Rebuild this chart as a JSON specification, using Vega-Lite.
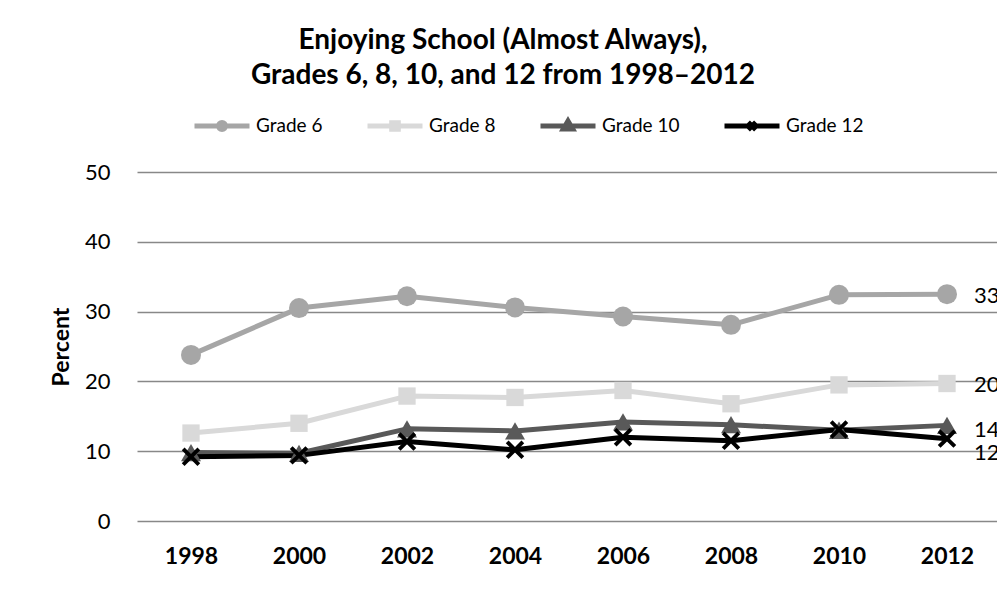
{
  "$schema": "https://vega.github.io/schema/vega-lite/v6.json",
  "autosize": {"type": "none"},
  "width": 864,
  "height": 349,
  "padding": {"left": 137, "top": 172, "right": -4, "bottom": 71},
  "background": "white",
  "title": {
    "text": ["Enjoying School (Almost Always),", "Grades 6, 8, 10, and 12 from 1998–2012"],
    "anchor": "middle",
    "frame": "group",
    "dx": -66,
    "offset": 6,
    "font": "Lato",
    "fontSize": 28,
    "fontWeight": "bold",
    "color": "#000000",
    "lineHeight": 35
  },
  "config": {
    "view": {"stroke": null},
    "font": "Lato"
  },
  "data": {
    "values": [
      {"year": "1998", "grade": "Grade 6", "value": 23.8},
      {"year": "2000", "grade": "Grade 6", "value": 30.5},
      {"year": "2002", "grade": "Grade 6", "value": 32.2},
      {"year": "2004", "grade": "Grade 6", "value": 30.6},
      {"year": "2006", "grade": "Grade 6", "value": 29.3},
      {"year": "2008", "grade": "Grade 6", "value": 28.1},
      {"year": "2010", "grade": "Grade 6", "value": 32.4},
      {"year": "2012", "grade": "Grade 6", "value": 32.5},
      {"year": "1998", "grade": "Grade 8", "value": 12.6},
      {"year": "2000", "grade": "Grade 8", "value": 14.0},
      {"year": "2002", "grade": "Grade 8", "value": 17.9},
      {"year": "2004", "grade": "Grade 8", "value": 17.7},
      {"year": "2006", "grade": "Grade 8", "value": 18.7},
      {"year": "2008", "grade": "Grade 8", "value": 16.8},
      {"year": "2010", "grade": "Grade 8", "value": 19.5},
      {"year": "2012", "grade": "Grade 8", "value": 19.7},
      {"year": "1998", "grade": "Grade 10", "value": 9.8},
      {"year": "2000", "grade": "Grade 10", "value": 9.7},
      {"year": "2002", "grade": "Grade 10", "value": 13.2},
      {"year": "2004", "grade": "Grade 10", "value": 12.9},
      {"year": "2006", "grade": "Grade 10", "value": 14.2},
      {"year": "2008", "grade": "Grade 10", "value": 13.8},
      {"year": "2010", "grade": "Grade 10", "value": 13.0},
      {"year": "2012", "grade": "Grade 10", "value": 13.7},
      {"year": "1998", "grade": "Grade 12", "value": 9.2},
      {"year": "2000", "grade": "Grade 12", "value": 9.4},
      {"year": "2002", "grade": "Grade 12", "value": 11.4},
      {"year": "2004", "grade": "Grade 12", "value": 10.2},
      {"year": "2006", "grade": "Grade 12", "value": 12.0},
      {"year": "2008", "grade": "Grade 12", "value": 11.5},
      {"year": "2010", "grade": "Grade 12", "value": 13.1},
      {"year": "2012", "grade": "Grade 12", "value": 11.8}
    ]
  },
  "encoding": {
    "x": {
      "field": "year",
      "type": "ordinal",
      "scale": {"type": "point", "padding": 0.5},
      "axis": {
        "title": null,
        "labelAngle": 0,
        "labelFont": "Lato",
        "labelFontSize": 23,
        "labelFontWeight": "bold",
        "labelColor": "#000000",
        "labelPadding": 24,
        "ticks": false,
        "domain": false,
        "grid": false
      }
    },
    "y": {
      "field": "value",
      "type": "quantitative",
      "scale": {"domain": [0, 50], "nice": false, "zero": true},
      "axis": {
        "title": "Percent",
        "titleFont": "Lato",
        "titleFontSize": 23,
        "titleFontWeight": "bold",
        "titleColor": "#000000",
        "titlePadding": 11,
        "values": [0, 10, 20, 30, 40, 50],
        "labelFont": "Lato",
        "labelFontSize": 22,
        "labelColor": "#000000",
        "labelPadding": 27,
        "ticks": false,
        "domain": false,
        "grid": true,
        "gridColor": "#888888",
        "gridWidth": 1.5
      }
    }
  },
  "layer": [
    {
      "mark": {"type": "line", "strokeWidth": 5, "strokeCap": "round", "strokeJoin": "round"},
      "encoding": {
        "color": {
          "field": "grade",
          "type": "nominal",
          "sort": ["Grade 6", "Grade 8", "Grade 10", "Grade 12"],
          "scale": {
            "domain": ["Grade 6", "Grade 8", "Grade 10", "Grade 12"],
            "range": ["#A6A6A6", "#D9D9D9", "#595959", "#000000"]
          },
          "legend": {
            "title": null,
            "orient": "none",
            "direction": "horizontal",
            "legendX": 55,
            "legendY": -76,
            "gridAlign": "none",
            "columnPadding": 34,
            "labelOffset": 4,
            "labelFont": "Lato",
            "labelFontSize": 19,
            "labelColor": "#000000",
            "symbolSize": 3025,
            "symbolStrokeWidth": 5,
            "encode": {
              "symbols": {
                "update": {
                  "shape": {"signal": "datum.value === 'Grade 6' ? 'M-1,0H1M-0.13,0A0.13,0.13 0 1,0 0.13,0A0.13,0.13 0 1,0 -0.13,0Z' : datum.value === 'Grade 8' ? 'M-1,0H1M-0.12,-0.12H0.12V0.12H-0.12Z' : datum.value === 'Grade 10' ? 'M-1,0H1M0,-0.18L0.17,0.11H-0.17Z' : 'M-1,0H1M-0.14,-0.14L0.14,0.14M-0.14,0.14L0.14,-0.14'"},
                  "fill": {"scale": "color", "field": "value"},
                  "stroke": {"scale": "color", "field": "value"},
                  "strokeWidth": {"value": 5},
                  "opacity": {"value": 1},
                  "fillOpacity": {"value": 1},
                  "strokeOpacity": {"value": 1}
                }
              }
            }
          }
        }
      }
    },
    {
      "transform": [{"filter": "datum.grade === 'Grade 6'"}],
      "mark": {"type": "point", "filled": true, "opacity": 1, "shape": "circle", "size": 400, "color": "#A6A6A6"}
    },
    {
      "transform": [{"filter": "datum.grade === 'Grade 8'"}],
      "mark": {"type": "point", "filled": true, "opacity": 1, "shape": "square", "size": 300, "color": "#D9D9D9"}
    },
    {
      "transform": [{"filter": "datum.grade === 'Grade 10'"}],
      "mark": {"type": "point", "filled": true, "opacity": 1, "shape": "triangle-up", "size": 400, "color": "#595959"}
    },
    {
      "transform": [{"filter": "datum.grade === 'Grade 12'"}],
      "mark": {"type": "point", "filled": true, "opacity": 1, "shape": "M-1,-0.7L-0.7,-1L0,-0.3L0.7,-1L1,-0.7L0.3,0L1,0.7L0.7,1L0,0.3L-0.7,1L-1,0.7L-0.3,0Z", "size": 340, "color": "#000000"}
    },
    {
      "transform": [{"filter": "datum.year === '2012' && (datum.grade === 'Grade 6' || datum.grade === 'Grade 8')"}],
      "mark": {"type": "text", "align": "left", "baseline": "middle", "dx": 27, "dy": 2, "font": "Lato", "fontSize": 22, "color": "#000000"},
      "encoding": {
        "text": {"field": "value", "type": "quantitative", "format": ".0f"}
      }
    },
    {
      "transform": [{"filter": "datum.year === '2012' && datum.grade === 'Grade 10'"}],
      "mark": {"type": "text", "align": "left", "baseline": "middle", "dx": 27, "dy": 5, "font": "Lato", "fontSize": 22, "color": "#000000"},
      "encoding": {
        "text": {"field": "value", "type": "quantitative", "format": ".0f"}
      }
    },
    {
      "transform": [{"filter": "datum.year === '2012' && datum.grade === 'Grade 12'"}],
      "mark": {"type": "text", "align": "left", "baseline": "middle", "dx": 27, "dy": 14, "font": "Lato", "fontSize": 22, "color": "#000000"},
      "encoding": {
        "text": {"field": "value", "type": "quantitative", "format": ".0f"}
      }
    }
  ]
}
